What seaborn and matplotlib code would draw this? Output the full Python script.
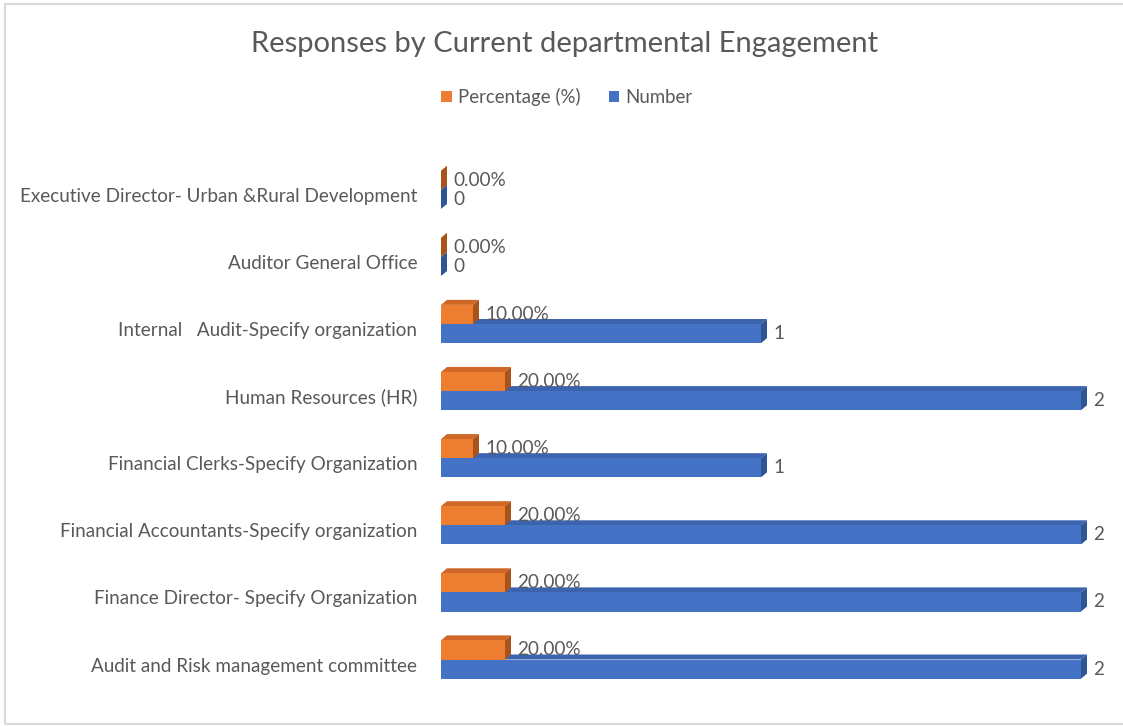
import matplotlib
matplotlib.use("Agg")
import matplotlib.pyplot as plt
import matplotlib.transforms as mtransforms
from matplotlib.patches import Polygon, Rectangle
import pandas as pd
import seaborn as sns

# Departments, top to bottom
categories = [
    "Executive Director- Urban &Rural Development",
    "Auditor General Office",
    "Internal   Audit-Specify organization",
    "Human Resources (HR)",
    "Financial Clerks-Specify Organization",
    "Financial Accountants-Specify organization",
    "Finance Director- Specify Organization",
    "Audit and Risk management committee",
]
numbers = [0, 0, 1, 2, 1, 2, 2, 2]
percentages = [0.0, 0.0, 0.10, 0.20, 0.10, 0.20, 0.20, 0.20]
series_names = ["Percentage (%)", "Number"]

ORANGE = "#ED7D31"
BLUE = "#4472C4"
TEXT = "#595959"
shade = {
    ORANGE: ("#CF6726", "#A9521A"),   # top face, side face
    BLUE: ("#3B63AE", "#2F5597"),
}

df = pd.DataFrame({
    "Department": categories * 2,
    "Series": [series_names[0]] * len(categories) + [series_names[1]] * len(categories),
    "Value": percentages + numbers,
})

sns.set_theme(style="white")
plt.rcParams["font.family"] = ["Lato", "DejaVu Sans"]

W, H = 1123, 726
fig = plt.figure(figsize=(W / 100, H / 100), dpi=100)
ax = fig.add_axes([441 / W, 21 / H, 640 / W, 555 / H])

sns.barplot(data=df, y="Department", x="Value", hue="Series", order=categories,
            hue_order=series_names, palette=[ORANGE, BLUE], orient="h",
            width=0.57, errorbar=None, ax=ax, legend=False, linewidth=0,
            saturation=1)

ax.set_xlim(0, 2)
ax.set_ylim(7.678, -0.593)
for s in ax.spines.values():
    s.set_visible(False)
ax.set_xticks([])
ax.set_xlabel("")
ax.set_ylabel("")
ax.tick_params(axis="y", length=0, pad=17, labelsize=13.6, labelcolor=TEXT)
shift = mtransforms.ScaledTranslation(0, -5 / 100, fig.dpi_scale_trans)
for lab in ax.get_yticklabels():
    lab.set_transform(lab.get_transform() + shift)

# Extruded faces give the bars a 3-D look
dx, dy = 6, 5
n = len(categories)
bars = ax.patches[: 2 * n]
for i, bar in enumerate(bars):
    color = ORANGE if i < n else BLUE
    z = 3 if color == ORANGE else 2
    bar.set_zorder(z + 0.5)
    x0, y0 = bar.get_x(), bar.get_y()
    x1, y1 = x0 + bar.get_width(), y0 + bar.get_height()
    (ax0, ay0), (ax1, ay1) = ax.transData.transform([(x0, y0), (x1, y1)])
    left, right = min(ax0, ax1), max(ax0, ax1)
    bot, top = min(ay0, ay1), max(ay0, ay1)
    top_face = [(left, top), (right, top), (right + dx, top + dy), (left + dx, top + dy)]
    side_face = [(right, bot), (right, top), (right + dx, top + dy), (right + dx, bot + dy)]
    for pts, c in ((top_face, shade[color][0]), (side_face, shade[color][1])):
        ax.add_patch(Polygon(pts, closed=True, facecolor=c, edgecolor="none",
                             transform=mtransforms.IdentityTransform(), zorder=z,
                             clip_on=False))
    value = bar.get_width()
    label = f"{value:.2%}" if color == ORANGE else f"{value:g}"
    ax.annotate(label, (x1, y0 + bar.get_height() / 2), xytext=(9, 0),
                textcoords="offset points", va="center", ha="left",
                fontsize=13.6, color=TEXT, zorder=5, annotation_clip=False)

fig.text(565 / W, 1 - 44 / H, "Responses by Current departmental Engagement",
         ha="center", va="center", fontsize=21, color=TEXT)

handles = [Rectangle((0, 0), 1, 1, facecolor=c, edgecolor="none") for c in (ORANGE, BLUE)]
fig.legend(handles, series_names, loc="center", bbox_to_anchor=(567 / W, 1 - 97 / H),
           ncol=2, frameon=False, fontsize=13.4, labelcolor=TEXT, handlelength=0.55,
           handleheight=0.55, handletextpad=0.35, columnspacing=1.5)

fig.patches.append(Rectangle((5 / W, 2 / H), 1.2, 1 - 6 / H, transform=fig.transFigure,
                             fill=False, edgecolor="#D9D9D9", linewidth=1.5))

fig.savefig("out.png", dpi=100)
